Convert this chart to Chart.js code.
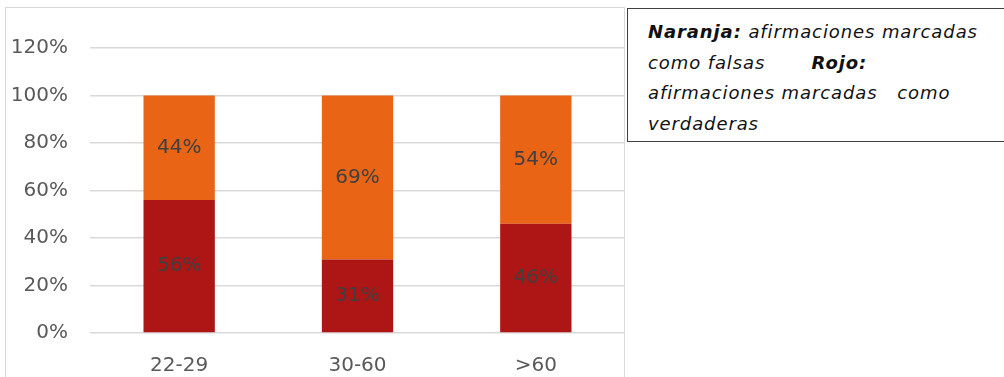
<!DOCTYPE html>
<html>
<head>
<meta charset="utf-8">
<script src="https://cdn.jsdelivr.net/npm/chart.js@4"></script>
<style>
  body { margin: 0; background: #fff; width: 1004px; height: 377px; overflow: hidden; position: relative; }
  #frame { position: absolute; left: 5px; top: 7px; width: 620px; height: 380px; border: 1.5px solid #d9d9d9; box-sizing: border-box; }
  #wrap { position: absolute; left: 6px; top: 8px; width: 619px; height: 369px; }
  #note { position: absolute; left: 627px; top: 8px; width: 390px; height: 134px; border: 1.5px solid #404040; box-sizing: border-box;
    padding: 8px 0 0 20px; font-family: "DejaVu Sans"; font-style: italic; font-size: 18px; letter-spacing: 0.9px; line-height: 30.5px; color: #111; background: #fff; }
  #note b { font-weight: bold; }
</style>
</head>
<body>
<div id="frame"></div>
<div id="wrap"><canvas id="myChart"></canvas></div>
<div id="note"><b>Naranja:</b> afirmaciones marcadas<br>como falsas&nbsp;&nbsp;&nbsp;&nbsp;&nbsp;&nbsp; <b>Rojo:</b><br>afirmaciones marcadas&nbsp;&nbsp;&nbsp;como<br>verdaderas</div>
<script>
const categories = ["22-29", "30-60", ">60"];
const rojoValues = [56, 31, 46];
const naranjaValues = [44, 69, 54];
const yTicks = [0, 20, 40, 60, 80, 100, 120];

// draws the % labels centred in each segment
const segmentLabels = {
  id: "segmentLabels",
  afterDatasetsDraw(chart) {
    const ctx = chart.ctx;
    ctx.save();
    ctx.font = '20px "DejaVu Sans"';
    ctx.fillStyle = "#404040";
    ctx.textAlign = "center";
    ctx.textBaseline = "middle";
    chart.data.datasets.forEach((ds, i) => {
      chart.getDatasetMeta(i).data.forEach((bar, j) => {
        const y = (bar.y + bar.base) / 2;
        ctx.fillText(ds.data[j] + "%", bar.x, y);
      });
    });
    ctx.restore();
  },
};

const ctx = document.getElementById("myChart").getContext("2d");
new Chart(ctx, {
  type: "bar",
  data: {
    labels: categories,
    datasets: [
      {
        label: "Rojo",
        data: rojoValues,
        backgroundColor: "#AE1515",
        categoryPercentage: 1,
        barPercentage: 0.4,
      },
      {
        label: "Naranja",
        data: naranjaValues,
        backgroundColor: "#E96515",
        categoryPercentage: 1,
        barPercentage: 0.4,
      },
    ],
  },
  options: {
    responsive: true,
    maintainAspectRatio: false,
    animation: false,
    layout: { padding: { top: 40, right: 0, left: 0, bottom: 0 } },
    plugins: {
      legend: { display: false },
      tooltip: { enabled: false },
    },
    scales: {
      x: {
        stacked: true,
        grid: { display: false },
        border: { display: false },
        ticks: {
          color: "#595959",
          padding: 13,
          font: { family: "DejaVu Sans", size: 20 },
        },
        afterFit: (scale) => { scale.height = 44; },
      },
      y: {
        stacked: true,
        min: 0,
        max: 120,
        afterBuildTicks: (scale) => { scale.ticks = yTicks.map((v) => ({ value: v })); },
        grid: { color: "#d9d9d9", lineWidth: 1.5, drawTicks: false },
        border: { display: false },
        ticks: {
          color: "#595959",
          padding: 22,
          font: { family: "DejaVu Sans", size: 20 },
          callback: (v) => v + "%",
        },
        afterFit: (scale) => { scale.width = 84; },
      },
    },
  },
  plugins: [segmentLabels],
});
</script>
</body>
</html>
